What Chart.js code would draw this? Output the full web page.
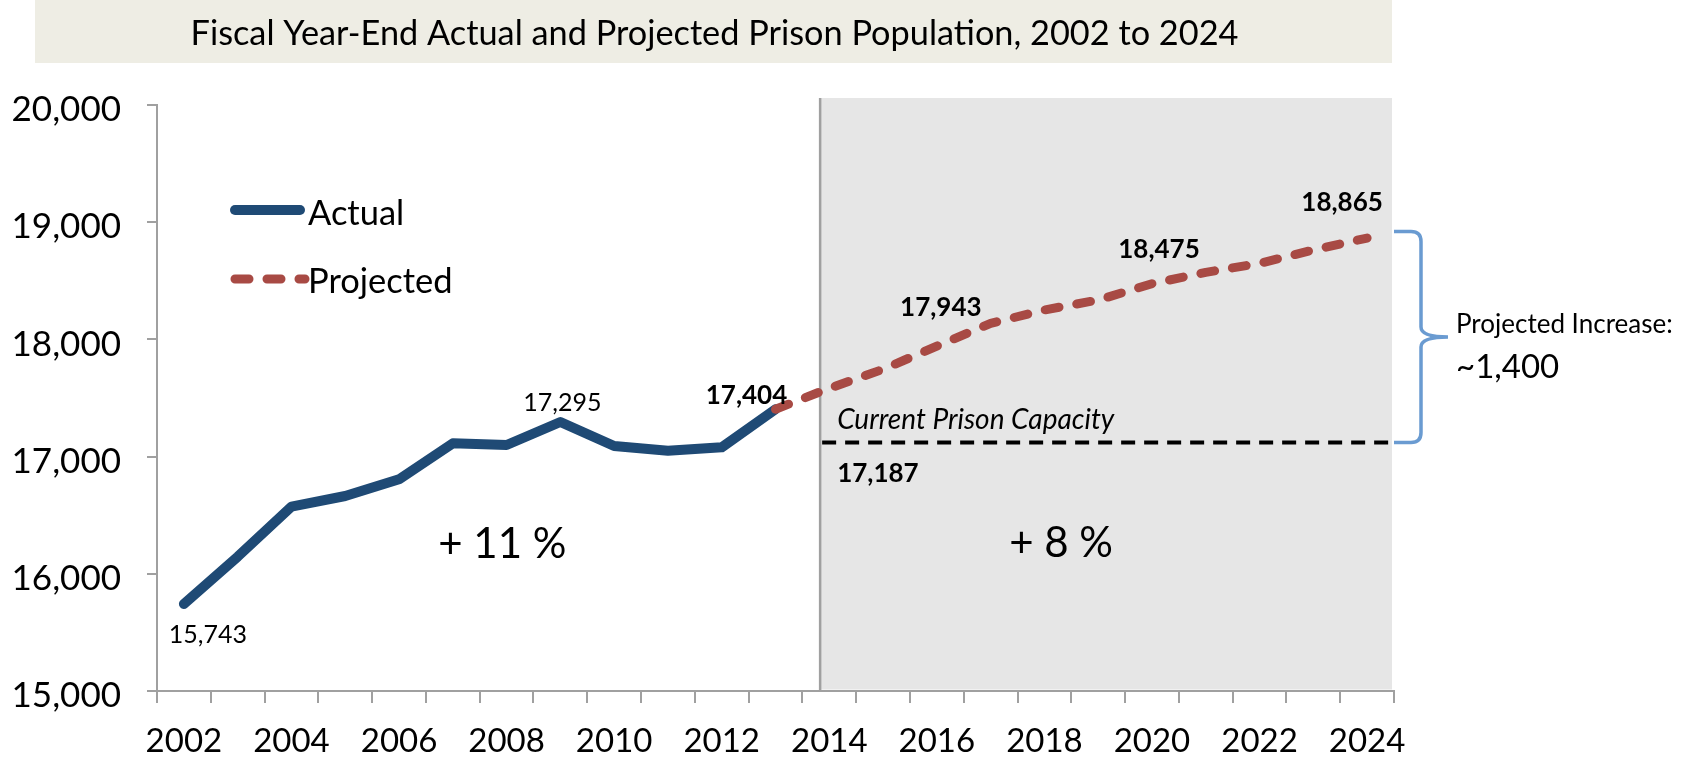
<!DOCTYPE html>
<html>
<head>
<meta charset="utf-8">
<title>Fiscal Year-End Actual and Projected Prison Population</title>
<script src="https://cdn.jsdelivr.net/npm/chart.js@4.4.1/dist/chart.umd.min.js"></script>
<style>
  html, body { margin: 0; padding: 0; background: #fff; }
  #wrap { width: 1682px; height: 764px; }
</style>
</head>
<body>
<div id="wrap"><canvas id="prisonChart" width="1682" height="764"></canvas></div>
<script>
// data
const years = ['2002', '2003', '2004', '2005', '2006', '2007', '2008', '2009', '2010', '2011', '2012',
  '2013', '2014', '2015', '2016', '2017', '2018', '2019', '2020', '2021', '2022', '2023', '2024'];
const actualYears = ['2002', '2003', '2004', '2005', '2006', '2007', '2008', '2009', '2010', '2011', '2012', '2013'];
const actualValues = [15743, 16146, 16573, 16664, 16806, 17113, 17099, 17295, 17090, 17050, 17079, 17404];
const projectedYears = ['2013', '2014', '2015', '2016', '2017', '2018', '2019', '2020', '2021', '2022', '2023', '2024'];
const projectedValues = [17404, 17583, 17745, 17943, 18137, 18251, 18336, 18475, 18572, 18649, 18763, 18865];
const yTicks = [15000, 16000, 17000, 18000, 19000, 20000];
const capacityLevel = 17120;      // where the dashed line sits in the picture
const capacityText = '17,187';
const braceTopLevel = 18920;
const actualGrowth = '+ 11 %';
const projectedGrowth = '+ 8 %';

const FONT = 'Lato, "Open Sans", sans-serif';
const C_ACTUAL = '#1F4A75';
const C_PROJ = '#A84A44';
const C_AXIS = '#A0A0A0';

const actualData = years.map(yr => {
  const i = actualYears.indexOf(yr);
  return i < 0 ? null : actualValues[i];
});
const projectedData = years.map(yr => {
  const i = projectedYears.indexOf(yr);
  return i < 0 ? null : projectedValues[i];
});

// text helper, cy = visual middle of the digits / capitals
function drawText(ctx, str, x, cy, size, opts) {
  opts = opts || {};
  ctx.save();
  ctx.font = (opts.style || 'normal') + ' ' + (opts.weight || 'normal') + ' ' + size + 'px ' + FONT;
  ctx.fillStyle = opts.color || '#000';
  ctx.textAlign = opts.align || 'center';
  ctx.textBaseline = 'alphabetic';
  ctx.fillText(str, x, cy + size * 0.36);
  ctx.restore();
}

function fmt(v) { return v.toLocaleString('en-US'); }

const overlay = {
  id: 'overlay',
  beforeDraw(chart) {
    const { ctx, chartArea: a } = chart;
    ctx.save();
    ctx.fillStyle = '#EEEDE4';
    ctx.fillRect(35, 0, a.right - 2 - 35, 63);
    ctx.restore();
    drawText(ctx, 'Fiscal Year-End Actual and Projected Prison Population, 2002 to 2024',
      (35 + a.right) / 2, 33, 34.3);
  },
  beforeDatasetsDraw(chart) {
    const { ctx, chartArea: a, scales: { x, y } } = chart;
    const splitX = x.getPixelForValue(11.83);
    const top = a.top - 7;
    ctx.save();
    ctx.fillStyle = '#E6E6E6';
    ctx.fillRect(splitX, top, a.right - 2 - splitX, a.bottom - 1.5 - top);

    ctx.strokeStyle = C_AXIS;
    ctx.lineWidth = 2.5;
    ctx.beginPath();
    ctx.moveTo(splitX, top);
    ctx.lineTo(splitX, a.bottom);
    ctx.stroke();

    const capY = y.getPixelForValue(capacityLevel);
    ctx.strokeStyle = '#000';
    ctx.lineWidth = 4;
    ctx.setLineDash([14, 9]);
    ctx.beginPath();
    ctx.moveTo(splitX + 2, capY);
    ctx.lineTo(a.right, capY);
    ctx.stroke();
    ctx.restore();
  },
  afterDatasetsDraw(chart) {
    const { ctx, chartArea: a, scales: { x, y } } = chart;
    const px = yr => x.getPixelForValue(years.indexOf(yr));

    // point labels
    drawText(ctx, fmt(actualValues[0]), px('2002') + 24, y.getPixelForValue(actualValues[0]) + 30, 25);
    drawText(ctx, fmt(actualValues[7]), px('2009') + 2, y.getPixelForValue(actualValues[7]) - 20, 25);
    drawText(ctx, fmt(actualValues[11]), px('2013') - 29, y.getPixelForValue(actualValues[11]) - 15, 26, { weight: 'bold' });
    drawText(ctx, fmt(projectedValues[3]), px('2016') + 4, y.getPixelForValue(projectedValues[3]) - 39, 26, { weight: 'bold' });
    drawText(ctx, fmt(projectedValues[7]), px('2020') + 7, y.getPixelForValue(projectedValues[7]) - 35, 26, { weight: 'bold' });
    drawText(ctx, fmt(projectedValues[11]), px('2024') - 25, y.getPixelForValue(projectedValues[11]) - 36, 26, { weight: 'bold' });

    // capacity
    const splitX = x.getPixelForValue(11.83);
    const capY = y.getPixelForValue(capacityLevel);
    drawText(ctx, 'Current Prison Capacity', splitX + 17, capY - 24, 28, { style: 'italic', align: 'left' });
    drawText(ctx, capacityText, splitX + 17, capY + 30, 26, { weight: 'bold', align: 'left' });

    // growth
    drawText(ctx, actualGrowth, x.getPixelForValue(5.92), y.getPixelForValue(16262), 42);
    drawText(ctx, projectedGrowth, x.getPixelForValue(16.31), y.getPixelForValue(16275), 42);

    // brace
    const yTop = y.getPixelForValue(braceTopLevel);
    const yBot = capY;
    const yMid = (yTop + yBot) / 2;
    const x0 = a.right;
    const xv = x0 + 27;
    const xt = x0 + 54;
    const r = 10;
    ctx.save();
    ctx.strokeStyle = '#6A9BD1';
    ctx.lineWidth = 3.5;
    ctx.lineCap = 'butt';
    ctx.beginPath();
    ctx.moveTo(x0, yTop);
    ctx.lineTo(xv - r, yTop);
    ctx.quadraticCurveTo(xv, yTop, xv, yTop + r);
    ctx.lineTo(xv, yMid - r);
    ctx.quadraticCurveTo(xv, yMid, xt, yMid);
    ctx.moveTo(xt, yMid);
    ctx.quadraticCurveTo(xv, yMid, xv, yMid + r);
    ctx.lineTo(xv, yBot - r);
    ctx.quadraticCurveTo(xv, yBot, xv - r, yBot);
    ctx.lineTo(x0, yBot);
    ctx.stroke();
    ctx.restore();
    drawText(ctx, 'Projected Increase:', xt + 8, yMid - 13, 26, { align: 'left' });
    drawText(ctx, '~1,400', xt + 8, yMid + 29, 33, { align: 'left' });
  },
  afterDraw(chart) {
    const { ctx, chartArea: a } = chart;
    const lx0 = a.left + 73, lx1 = a.left + 148;
    ctx.save();
    ctx.lineCap = 'round';
    ctx.strokeStyle = C_ACTUAL;
    ctx.lineWidth = 10;
    ctx.beginPath();
    ctx.moveTo(lx0 + 5, 210);
    ctx.lineTo(lx1 - 5, 210);
    ctx.stroke();
    ctx.strokeStyle = C_PROJ;
    ctx.lineWidth = 9;
    ctx.setLineDash([14, 18]);
    ctx.beginPath();
    ctx.moveTo(lx0 + 5, 279);
    ctx.lineTo(lx1, 279);
    ctx.stroke();
    ctx.restore();
    drawText(ctx, 'Actual', lx1 + 3, 213, 34.5, { align: 'left' });
    drawText(ctx, 'Projected', lx1 + 3, 281, 34.5, { align: 'left' });
  }
};

new Chart(document.getElementById('prisonChart'), {
  type: 'line',
  data: {
    labels: years,
    datasets: [
      {
        label: 'Actual',
        data: actualData,
        borderColor: C_ACTUAL,
        borderWidth: 10,
        borderCapStyle: 'round',
        borderJoinStyle: 'round',
        pointRadius: 0,
        order: 1
      },
      {
        label: 'Projected',
        data: projectedData,
        borderColor: C_PROJ,
        borderWidth: 9,
        borderDash: [14, 18],
        borderCapStyle: 'round',
        borderJoinStyle: 'round',
        pointRadius: 0,
        order: 0
      }
    ]
  },
  options: {
    responsive: false,
    animation: false,
    devicePixelRatio: 1,
    layout: { padding: { top: 105, right: 288, bottom: 0, left: 0 } },
    plugins: {
      legend: { display: false },
      title: { display: false },
      tooltip: { enabled: false }
    },
    scales: {
      x: {
        type: 'category',
        offset: true,
        grid: { offset: true, drawOnChartArea: false, drawTicks: true, tickLength: 12, color: C_AXIS, lineWidth: 2 },
        border: { color: C_AXIS, width: 2 },
        ticks: {
          autoSkip: false,
          maxRotation: 0,
          padding: 19,
          color: '#000',
          font: { family: FONT, size: 33 },
          callback: (v, i) => (i % 2 === 0 ? years[i] : '')
        },
        afterFit(s) { s.height = 73; }
      },
      y: {
        min: 15000,
        max: 20000,
        afterBuildTicks(s) { s.ticks = yTicks.map(v => ({ value: v })); },
        grid: { drawOnChartArea: false, tickLength: 10, color: C_AXIS, lineWidth: 2 },
        border: { color: C_AXIS, width: 2 },
        ticks: {
          padding: 26,
          labelOffset: 5,
          color: '#000',
          font: { family: FONT, size: 35 },
          callback: v => fmt(v)
        },
        afterFit(s) { s.width = 157; }
      }
    }
  },
  plugins: [overlay]
});
</script>
</body>
</html>
